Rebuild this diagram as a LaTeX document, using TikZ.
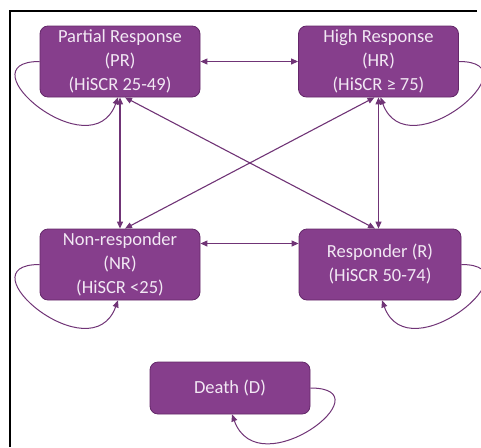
\documentclass[tikz,border=0pt]{standalone}
\usepackage{fontspec}
\setmainfont{Carlito}
\usetikzlibrary{arrows.meta,positioning,calc}
\definecolor{statepurple}{RGB}{134,62,140}
\definecolor{stateedge}{RGB}{100,40,105}
\definecolor{statetext}{RGB}{242,232,244}
\definecolor{linkpurple}{RGB}{112,52,118}
\tikzset{
  state/.style={draw=stateedge,fill=statepurple,text=statetext,rounded corners=8pt,
    minimum width=160pt,minimum height=71pt,inner sep=2pt,align=center,
    font=\fontsize{18.5}{24}\selectfont,line width=0.8pt},
  twoway/.style={draw=linkpurple,line width=1.1pt,
    {Triangle[length=7pt,width=6pt]}-{Triangle[length=7pt,width=6pt]}},
  selfloop/.style={draw=linkpurple,line width=1pt,
    -{Triangle[length=7pt,width=6pt]},distance=78pt},
}

\begin{document}
\begin{tikzpicture}[x=1pt,y=1pt]
	\useasboundingbox (0,0) rectangle (481,-447);
	\draw[line width=2.5pt] (10,-447) -- (10,-11) -- (477,-11);
	% states
	\node[state] (pr) at (120,-61.5) {Partial Response\\(PR)\\(HiSCR 25-49)};
	\node[state] (hr) at (378.5,-61.5) {High Response\\(HR)\\(HiSCR ≥ 75)};
	\node[state] (nr) at (120,-264.5) {Non-responder\\(NR)\\(HiSCR <25)};
	\node[state,minimum width=162pt] (r) at (380,-264.5) {Responder (R)\\(HiSCR 50-74)};
	\node[state,minimum height=52pt] (d) at (230,-388) {Death (D)};
	% transitions
	\draw[twoway] (pr.east) -- (hr.west);
	\draw[twoway] ([yshift=21pt]nr.east) -- ([yshift=21pt]r.west);
	\draw[twoway] (pr.south) -- (nr.north);
	\draw[twoway] (hr.south) -- (hr.south |- r.north);
	\draw[twoway] ([xshift=5pt]pr.south) -- ([xshift=-5pt]r.north);
	\draw[twoway] ([xshift=-4pt]hr.south) -- ([xshift=5pt]nr.north);
	% stay in state
	\draw[selfloop] (pr.west) to[out=180,in=-110] ([xshift=-2pt]pr.south);
	\draw[selfloop] (nr.west) to[out=180,in=-110] ([xshift=-2pt]nr.south);
	\draw[selfloop] (hr.east) to[out=0,in=-70] ([xshift=2pt]hr.south);
	\draw[selfloop] (r.east) to[out=0,in=-70] ([xshift=2pt]r.south);
	\draw[selfloop] (d.east) to[out=0,in=-70] ([xshift=2pt]d.south);
\end{tikzpicture}
\end{document}
